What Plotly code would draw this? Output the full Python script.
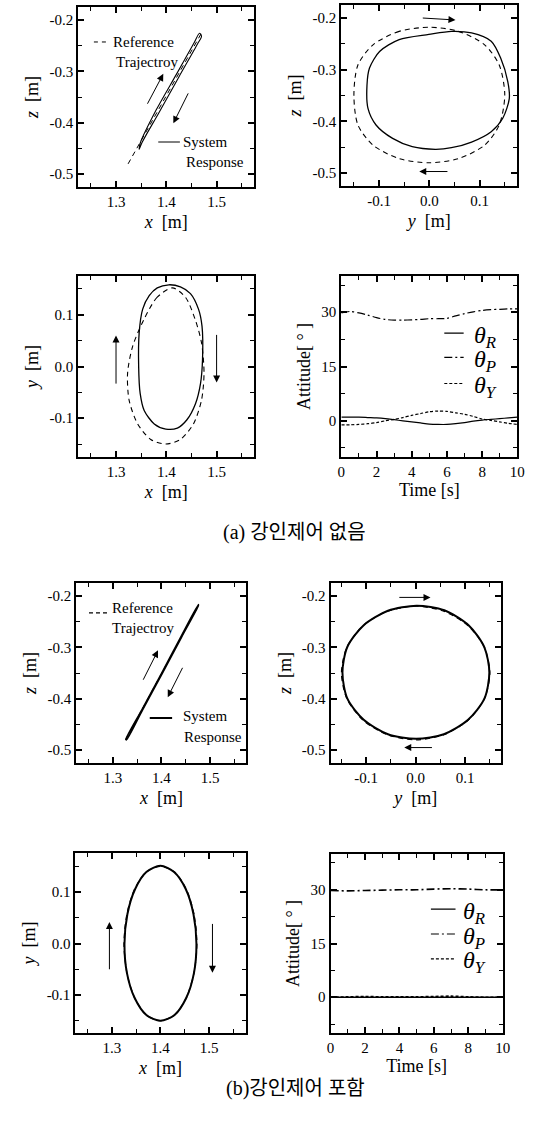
import plotly.graph_objects as go

W, H = 540, 1122
SERIF = "Liberation Serif, Times New Roman, serif"
KR = "Liberation Serif, Noto Sans CJK KR, serif"

# ---------------- data: (a) without robust control ----------------
# panel a1 : z vs x
a1_ref_x = [1.324, 1.472]
a1_ref_z = [-0.480, -0.222]
a1_sys_x = [1.346, 1.348, 1.380, 1.420, 1.455, 1.466, 1.470, 1.462, 1.425, 1.385, 1.352, 1.346]
a1_sys_z = [-0.452, -0.440, -0.375, -0.306, -0.245, -0.226, -0.232, -0.247, -0.311, -0.381, -0.438, -0.452]

# panel a2 : z vs y
a2_ref_y = [0.000, -0.060, -0.112, -0.142, -0.150, -0.142, -0.112, -0.060, 0.000, 0.058, 0.110, 0.139, 0.150, 0.139, 0.110, 0.058, 0.000]
a2_ref_z = [-0.218, -0.226, -0.252, -0.291, -0.349, -0.407, -0.446, -0.472, -0.480, -0.472, -0.446, -0.407, -0.349, -0.291, -0.252, -0.226, -0.218]
a2_sys_y = [0.044, -0.001, -0.060, -0.099, -0.119, -0.124, -0.122, -0.106, -0.073, -0.034, 0.012, 0.044, 0.084, 0.123, 0.146, 0.159, 0.156, 0.142, 0.123, 0.084, 0.044]
a2_sys_z = [-0.226, -0.232, -0.242, -0.265, -0.297, -0.330, -0.375, -0.407, -0.433, -0.449, -0.454, -0.451, -0.440, -0.420, -0.394, -0.356, -0.323, -0.278, -0.245, -0.229, -0.226]

# panel a3 : y vs x
a3_ref_x = [1.412, 1.382, 1.356, 1.333, 1.323, 1.326, 1.343, 1.369, 1.399, 1.428, 1.454, 1.470, 1.475, 1.470, 1.457, 1.438, 1.412]
a3_ref_y = [0.152, 0.134, 0.092, 0.039, -0.013, -0.065, -0.111, -0.141, -0.150, -0.141, -0.111, -0.065, -0.013, 0.046, 0.092, 0.134, 0.152]
a3_sys_x = [1.405, 1.382, 1.366, 1.353, 1.346, 1.345, 1.348, 1.356, 1.376, 1.399, 1.422, 1.441, 1.458, 1.468, 1.472, 1.471, 1.464, 1.448, 1.428, 1.405]
a3_sys_y = [0.158, 0.152, 0.137, 0.111, 0.065, 0.000, -0.052, -0.085, -0.111, -0.121, -0.119, -0.103, -0.072, -0.033, 0.013, 0.078, 0.111, 0.141, 0.154, 0.158]

# panel a4 : attitude vs time
a4_t = [0, 0.5, 1, 1.5, 2, 2.5, 3, 3.5, 4, 4.5, 5, 5.5, 6, 6.5, 7, 7.5, 8, 8.5, 9, 9.5, 10]
a4_roll = [1.0, 1.0, 1.0, 0.9, 0.8, 0.6, 0.3, 0.0, -0.3, -0.6, -0.9, -1.0, -1.0, -0.8, -0.5, -0.1, 0.2, 0.4, 0.6, 0.8, 1.0]
a4_pitch = [29.8, 30.2, 29.8, 29.2, 28.5, 28.0, 27.8, 27.8, 27.9, 28.0, 28.2, 28.2, 28.3, 29.0, 29.6, 30.1, 30.5, 30.7, 30.8, 30.9, 30.9]
a4_yaw = [-1.1, -1.1, -1.0, -0.8, -0.5, 0.0, 0.4, 0.9, 1.5, 2.0, 2.5, 2.7, 2.6, 2.2, 1.8, 1.2, 0.5, 0.1, -0.3, -0.7, -1.0]

# ---------------- data: (b) with robust control ----------------
b1_ref_x = [1.326, 1.476]
b1_ref_z = [-0.480, -0.219]
b1_sys_x = [1.327, 1.360, 1.400, 1.440, 1.476, 1.476, 1.441, 1.401, 1.361, 1.328, 1.327]
b1_sys_z = [-0.479, -0.421, -0.351, -0.280, -0.217, -0.219, -0.281, -0.352, -0.422, -0.480, -0.479]

b2_ref_y = [0.150, 0.139, 0.106, 0.057, 0.000, -0.057, -0.106, -0.139, -0.150, -0.139, -0.106, -0.057, 0.000, 0.057, 0.106, 0.139, 0.150]
b2_ref_z = [-0.350, -0.300, -0.258, -0.230, -0.220, -0.230, -0.258, -0.300, -0.350, -0.400, -0.442, -0.470, -0.480, -0.470, -0.442, -0.400, -0.350]
b2_sys_y = [0.149, 0.139, 0.107, 0.058, 0.002, -0.056, -0.105, -0.138, -0.148, -0.138, -0.105, -0.056, 0.001, 0.057, 0.106, 0.139, 0.149]
b2_sys_z = [-0.349, -0.300, -0.257, -0.228, -0.219, -0.229, -0.257, -0.299, -0.349, -0.400, -0.441, -0.469, -0.478, -0.469, -0.441, -0.400, -0.349]

b3_ref_x = [1.475, 1.469, 1.453, 1.429, 1.400, 1.371, 1.347, 1.331, 1.325, 1.331, 1.347, 1.371, 1.400, 1.429, 1.453, 1.469, 1.475]
b3_ref_y = [0.000, 0.057, 0.106, 0.139, 0.150, 0.139, 0.106, 0.057, 0.000, -0.057, -0.106, -0.139, -0.150, -0.139, -0.106, -0.057, 0.000]
b3_sys_x = [1.474, 1.468, 1.452, 1.428, 1.400, 1.371, 1.348, 1.332, 1.326, 1.331, 1.347, 1.371, 1.400, 1.429, 1.453, 1.469, 1.474]
b3_sys_y = [0.000, 0.057, 0.106, 0.139, 0.151, 0.139, 0.106, 0.057, 0.000, -0.057, -0.106, -0.139, -0.150, -0.139, -0.106, -0.057, 0.000]

b4_t = [0, 1, 2, 3, 4, 5, 6, 7, 8, 9, 10]
b4_roll = [0.0, 0.0, 0.0, 0.0, 0.0, 0.0, 0.0, 0.0, 0.0, 0.0, 0.0]
b4_pitch = [29.8, 29.7, 29.8, 29.9, 30.0, 30.0, 30.2, 30.3, 30.2, 30.0, 30.0]
b4_yaw = [0.0, 0.1, 0.2, 0.1, 0.1, 0.1, 0.2, 0.3, 0.1, 0.0, 0.0]

captions = ["(a) 강인제어 없음", "(b)강인제어 포함"]

# ---------------- layout helpers ----------------
def sfx(i):
    return "" if i == 1 else str(i)

def dom(x0, x1, y0, y1):
    return [x0 / W, x1 / W], [1 - y1 / H, 1 - y0 / H]

panels = {
    1: dom(76, 256, 7, 187),
    2: dom(345, 525, 5, 186),
    3: dom(76, 256, 276, 457),
    4: dom(345, 525, 276, 457),
    5: dom(74, 248, 583, 763),
    6: dom(334, 508, 583, 763),
    7: dom(73, 247, 853, 1033),
    8: dom(334, 510, 854, 1033),
}

def axis(domain, anchor, rng, vals, texts, minors, title, standoff):
    return dict(
        domain=domain, anchor=anchor, range=rng,
        tickmode="array", tickvals=vals, ticktext=texts,
        ticks="inside", ticklen=6, tickwidth=1.6, tickcolor="black",
        showline=True, linewidth=2, linecolor="black", mirror="allticks",
        showgrid=False, zeroline=False,
        minor=dict(ticks="inside", ticklen=4, tickwidth=1.4, tickcolor="black",
                   tickvals=minors, showgrid=False),
        tickfont=dict(family=SERIF, size=15, color="black"),
        title=dict(text=title, font=dict(family=SERIF, size=18, color="black"), standoff=standoff),
    )

xr = [1.225, 1.575]
xv = [1.3, 1.4, 1.5]
xt = ["1.3", "1.4", "1.5"]
xm = [1.25, 1.35, 1.45, 1.55]
zr = [-0.525, -0.175]
zv = [-0.5, -0.4, -0.3, -0.2]
zt = ["-0.5", "-0.4", "-0.3", "-0.2"]
zm = [-0.45, -0.35, -0.25]
yr = [-0.175, 0.175]
yv = [-0.1, 0.0, 0.1]
yt = ["-0.1", "0.0", "0.1"]
ym = [-0.15, -0.05, 0.05, 0.15]
tr = [0, 10]
tv = [0, 2, 4, 6, 8, 10]
tt = ["0", "2", "4", "6", "8", "10"]
tm = [1, 3, 5, 7, 9]
ar = [-10, 40]
av = [0, 15, 30]
at = ["0", "15", "30"]
am = [-7.5, 7.5, 22.5, 37.5]

XT = "<i>x</i>  [m]"
YT = "<i>y</i>  [m]"
ZT = "<i>z</i>  [m]"
TT = "Time [s]"
AT = "Attitude[ ° ]"

specs = {
    1: (xr, xv, xt, xm, XT, zr, zv, zt, zm, ZT),
    2: (yr, yv, yt, ym, YT, zr, zv, zt, zm, ZT),
    3: (xr, xv, xt, xm, XT, yr, yv, yt, ym, YT),
    4: (tr, tv, tt, tm, TT, ar, av, at, am, AT),
    5: (xr, xv, xt, xm, XT, zr, zv, zt, zm, ZT),
    6: ([-0.172, 0.172], yv, yt, ym, YT, zr, zv, zt, zm, ZT),
    7: (xr, xv, xt, xm, XT, [-0.174, 0.176], yv, yt, ym, YT),
    8: (tr, tv, tt, tm, TT, ar, av, at, am, AT),
}

layout = dict(
    width=W, height=H, margin=dict(l=0, r=0, t=0, b=0),
    paper_bgcolor="white", plot_bgcolor="white", showlegend=False,
    font=dict(family=SERIF, color="black"),
)
for i, (xdom, ydom) in panels.items():
    s = specs[i]
    xs = 3 if i in (4, 8) else 6
    layout["xaxis" + sfx(i)] = axis(xdom, "y" + sfx(i), s[0], s[1], s[2], s[3], s[4], xs)
    layout["yaxis" + sfx(i)] = axis(ydom, "x" + sfx(i), s[5], s[6], s[7], s[8], s[9], 6)

fig = go.Figure(layout=layout)

def line(x, y, i, dash="solid", width=1.2):
    fig.add_trace(go.Scatter(x=x, y=y, mode="lines", xaxis="x" + sfx(i), yaxis="y" + sfx(i),
                             line=dict(color="black", width=width, dash=dash, shape="spline", smoothing=0.8),
                             hoverinfo="skip"))

REFDASH = "5px,4px"
# (a)
line(a1_ref_x, a1_ref_z, 1, REFDASH, 1.0)
line(a1_sys_x, a1_sys_z, 1, "solid", 1.1)
line(a2_ref_y, a2_ref_z, 2, REFDASH, 1.1)
line(a2_sys_y, a2_sys_z, 2, "solid", 1.3)
line(a3_ref_x, a3_ref_y, 3, REFDASH, 1.1)
line(a3_sys_x, a3_sys_y, 3, "solid", 1.3)
line(a4_t, a4_roll, 4, "solid", 1.2)
line(a4_t, a4_pitch, 4, "8px,3px,2px,3px", 1.2)
line(a4_t, a4_yaw, 4, "3px,2px", 1.2)
# (b)
line(b1_ref_x, b1_ref_z, 5, REFDASH, 1.0)
line(b1_sys_x, b1_sys_z, 5, "solid", 1.6)
line(b2_ref_y, b2_ref_z, 6, REFDASH, 1.2)
line(b2_sys_y, b2_sys_z, 6, "solid", 2.0)
line(b3_ref_x, b3_ref_y, 7, REFDASH, 1.2)
line(b3_sys_x, b3_sys_y, 7, "solid", 2.0)
line(b4_t, b4_roll, 8, "solid", 1.6)
line(b4_t, b4_pitch, 8, "8px,3px,2px,3px", 1.6)
line(b4_t, b4_yaw, 8, "3px,2px", 1.6)

# ---------------- arrows ----------------
def arrow(i, tx, ty, hx, hy):
    fig.add_annotation(x=hx, y=hy, ax=tx, ay=ty, xref="x" + sfx(i), yref="y" + sfx(i),
                       axref="x" + sfx(i), ayref="y" + sfx(i), text="", showarrow=True,
                       arrowhead=2, arrowsize=1.4, arrowwidth=1, arrowcolor="black")

arrow(1, 1.361, -0.366, 1.394, -0.305)
arrow(1, 1.445, -0.340, 1.414, -0.401)
arrow(2, -0.016, -0.200, 0.052, -0.204)
arrow(2, 0.039, -0.497, -0.020, -0.497)
arrow(3, 1.300, -0.036, 1.300, 0.060)
arrow(3, 1.500, 0.064, 1.500, -0.031)
arrow(5, 1.361, -0.366, 1.393, -0.306)
arrow(5, 1.445, -0.337, 1.413, -0.397)
arrow(6, -0.036, -0.203, 0.030, -0.203)
arrow(6, 0.036, -0.495, -0.023, -0.495)
arrow(7, 1.295, -0.053, 1.295, 0.042)
arrow(7, 1.507, 0.041, 1.507, -0.057)

# ---------------- in-plot legends ----------------
def text(i, x, y, s, size=15):
    fig.add_annotation(x=x, y=y, xref="x" + sfx(i), yref="y" + sfx(i), text=s, showarrow=False,
                       xanchor="left", yanchor="middle",
                       font=dict(family=SERIF, size=size, color="black"))

def sample(i, x0, x1, y, dash, width=1.2):
    fig.add_shape(type="line", x0=x0, x1=x1, y0=y, y1=y, xref="x" + sfx(i), yref="y" + sfx(i),
                  line=dict(color="black", width=width, dash=dash))

sample(1, 1.256, 1.287, -0.243, "4px,4px", 1.0)
text(1, 1.290, -0.243, "Reference")
text(1, 1.295, -0.282, "Trajectroy")
sample(1, 1.384, 1.427, -0.4375, "solid", 1.0)
text(1, 1.430, -0.4375, "System")
text(1, 1.436, -0.476, "Response")

sample(5, 1.251, 1.294, -0.233, "4px,3px", 1.2)
text(5, 1.295, -0.223, "Reference")
text(5, 1.295, -0.262, "Trajectroy")
sample(5, 1.376, 1.422, -0.4375, "solid", 1.8)
text(5, 1.440, -0.433, "System")
text(5, 1.442, -0.474, "Response")

theta = ["<i>θ</i><sub><i>R</i></sub>", "<i>θ</i><sub><i>P</i></sub>", "<i>θ</i><sub><i>Y</i></sub>"]
dashes = ["solid", "8px,3px,2px,3px", "3px,2px"]
for i, ys, x0, x1, xt0 in [(4, [24.2, 17.5, 10.3], 5.85, 6.95, 7.45), (8, [24.6, 17.65, 10.7], 5.83, 7.26, 7.55)]:
    for k in range(3):
        sample(i, x0, x1, ys[k], dashes[k], 1.2)
        text(i, xt0, ys[k] - 1.0, theta[k], size=24)

# ---------------- captions ----------------
fig.add_annotation(x=297 / W, y=1 - 532 / H, xref="paper", yref="paper", text=captions[0],
                   showarrow=False, font=dict(family=KR, size=20, color="black"))
fig.add_annotation(x=298 / W, y=1 - 1102 / H, xref="paper", yref="paper", text=captions[1],
                   showarrow=False, font=dict(family=KR, size=20, color="black"))

fig.write_html("out.html")
